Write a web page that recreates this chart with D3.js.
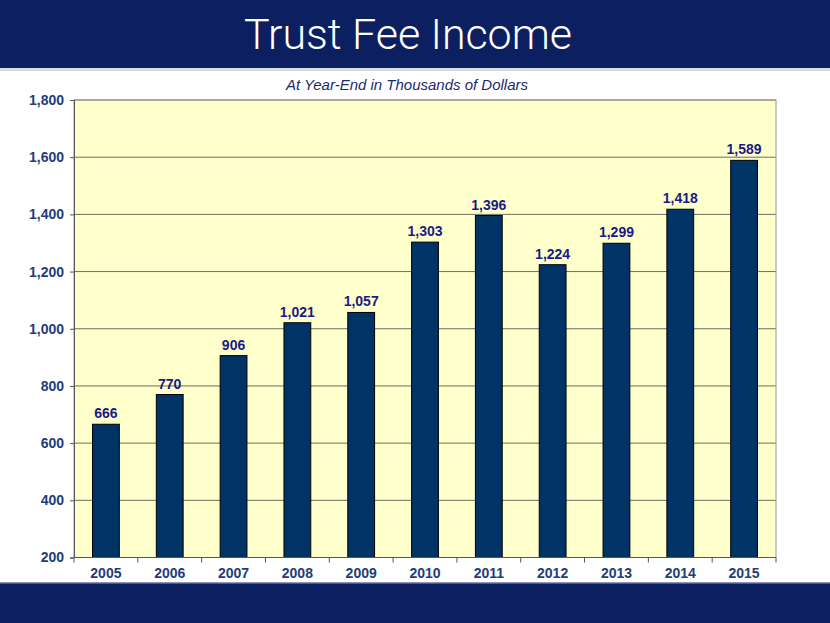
<!DOCTYPE html>
<html>
<head>
<meta charset="utf-8">
<script src="https://cdn.jsdelivr.net/npm/d3@7"></script>
<style>
  body { margin: 0; background: #fff; }
  svg { display: block; }
</style>
</head>
<body>
<div id="chart"></div>
<script>
// Chart data
const years = ['2005', '2006', '2007', '2008', '2009', '2010', '2011', '2012', '2013', '2014', '2015'];
const income = [666, 770, 906, 1021, 1057, 1303, 1396, 1224, 1299, 1418, 1589];
const yTicks = [200, 400, 600, 800, 1000, 1200, 1400, 1600, 1800];

const width = 830, height = 623;
const margin = { top: 100, right: 54, bottom: 65.5, left: 74 };

const svg = d3.select('#chart').append('svg')
    .attr('width', width)
    .attr('height', height);

// Banners
svg.append('rect').attr('x', 0).attr('y', 0).attr('width', width).attr('height', 68).attr('fill', '#0c1f60');
svg.append('rect').attr('x', 0).attr('y', 68).attr('width', width).attr('height', 3).attr('fill', '#d9dbe3');
svg.append('rect').attr('x', 0).attr('y', 583).attr('width', width).attr('height', 40).attr('fill', '#0c1f60');
svg.append('rect').attr('x', 0).attr('y', 582).attr('width', width).attr('height', 1.5).attr('fill', '#8c95b8');

svg.append('text')
    .attr('x', 408).attr('y', 49)
    .attr('text-anchor', 'middle')
    .attr('fill', '#fff')
    .style('font-family', 'Roboto, "Liberation Sans", sans-serif')
    .style('font-weight', 300)
    .style('font-size', '43px')
    .attr('textLength', 328)
    .text('Trust Fee Income');

svg.append('text')
    .attr('x', 407).attr('y', 90)
    .attr('text-anchor', 'middle')
    .attr('fill', '#1d2a70')
    .style('font-family', '"Liberation Sans", Arial, sans-serif')
    .style('font-style', 'italic')
    .style('font-size', '15.5px')
    .attr('textLength', 242)
    .attr('lengthAdjust', 'spacingAndGlyphs')
    .text('At Year-End in Thousands of Dollars');

const innerW = width - margin.left - margin.right;
const innerH = height - margin.top - margin.bottom;

const x = d3.scaleBand().domain(years).range([0, innerW]).paddingInner(0.58).paddingOuter(0.29);
const y = d3.scaleLinear().domain([200, 1800]).range([innerH, 0]);

const g = svg.append('g').attr('transform', `translate(${margin.left},${margin.top})`);

// Plot background
g.append('rect').attr('width', innerW).attr('height', innerH).attr('fill', '#ffffcc');

// Gridlines
g.append('g').selectAll('line')
    .data(yTicks.slice(1))
    .join('line')
    .attr('x1', 0).attr('x2', innerW)
    .attr('y1', d => y(d)).attr('y2', d => y(d))
    .attr('stroke', '#6e6e62')
    .attr('stroke-width', 1);

g.append('rect').attr('width', innerW).attr('height', innerH)
    .attr('fill', 'none').attr('stroke', '#9a9a90').attr('stroke-width', 1);

// Bars
g.append('g').selectAll('rect')
    .data(income)
    .join('rect')
    .attr('x', (d, i) => x(years[i]))
    .attr('y', d => y(d))
    .attr('width', x.bandwidth())
    .attr('height', d => innerH - y(d))
    .attr('fill', '#003366')
    .attr('stroke', '#000')
    .attr('stroke-width', 1);

// Value labels
g.append('g').selectAll('text')
    .data(income)
    .join('text')
    .attr('x', (d, i) => x(years[i]) + x.bandwidth() / 2)
    .attr('y', d => y(d) - 6)
    .attr('text-anchor', 'middle')
    .attr('fill', '#1a1a86')
    .style('font-family', '"Liberation Sans", Arial, sans-serif')
    .style('font-weight', 'bold')
    .style('font-size', '14px')
    .text(d => d3.format(',')(d));

// Axes
const axisY = d3.axisLeft(y).tickValues(yTicks).tickFormat(d3.format(',')).tickSize(4).tickPadding(6);
const yAxis = g.append('g').call(axisY);

const step = x.step();
const xAxis = g.append('g').attr('transform', `translate(0,${innerH})`);
xAxis.append('line').attr('x1', 0).attr('x2', innerW).attr('stroke', '#555');
xAxis.selectAll('line.tick')
    .data(d3.range(years.length + 1))
    .join('line')
    .attr('class', 'tick')
    .attr('x1', i => i * step).attr('x2', i => i * step)
    .attr('y1', 0).attr('y2', 5)
    .attr('stroke', '#555');
xAxis.selectAll('text')
    .data(years)
    .join('text')
    .attr('x', d => x(d) + x.bandwidth() / 2)
    .attr('y', 20.5)
    .attr('text-anchor', 'middle')
    .text(d => d);

[yAxis, xAxis].forEach(a => {
    a.selectAll('text')
        .attr('fill', '#1f3d78')
        .style('font-family', '"Liberation Sans", Arial, sans-serif')
        .style('font-weight', 'bold')
        .style('font-size', '14px');
});
yAxis.select('.domain').attr('stroke', '#555');
yAxis.selectAll('.tick line').attr('stroke', '#555');
</script>
</body>
</html>
